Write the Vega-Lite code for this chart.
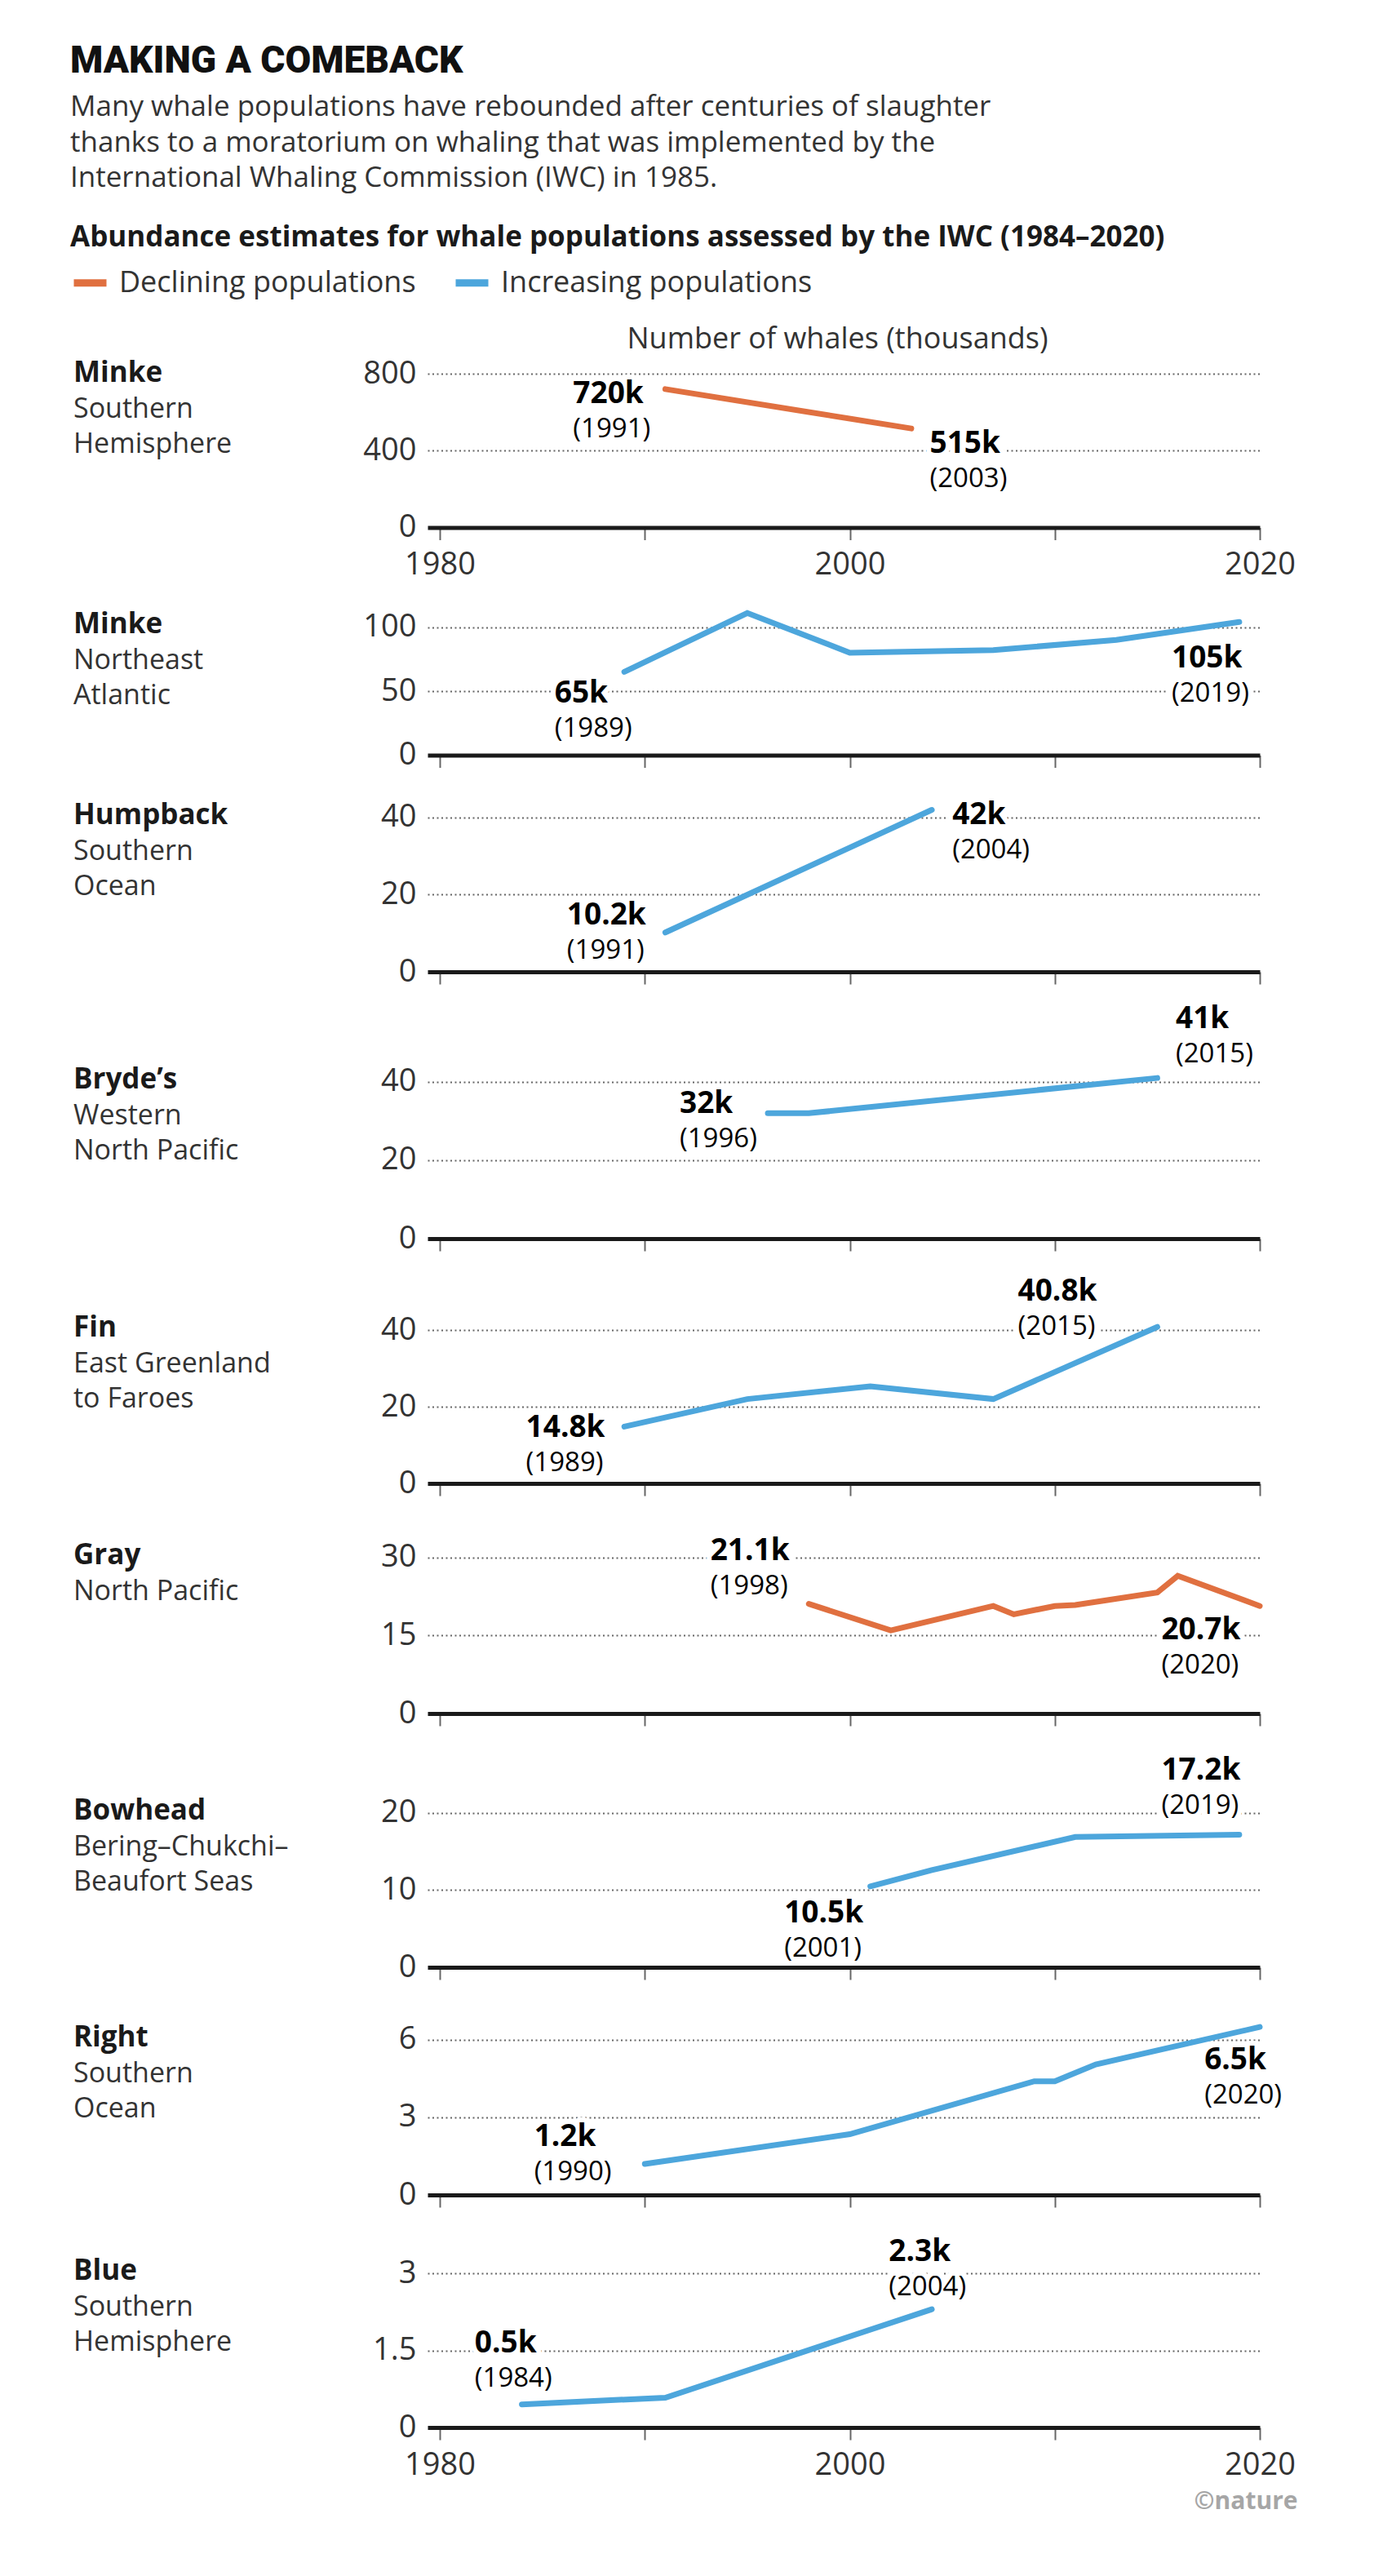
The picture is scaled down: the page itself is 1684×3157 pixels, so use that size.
{
  "$schema": "https://vega.github.io/schema/vega-lite/v6.json",
  "background": "white",
  "padding": {"left": 86, "top": 52, "right": 40, "bottom": 60},
  "title": {
    "text": "MAKING A COMEBACK",
    "subtitle": [
      "Many whale populations have rebounded after centuries of slaughter",
      "thanks to a moratorium on whaling that was implemented by the",
      "International Whaling Commission (IWC) in 1985."
    ],
    "anchor": "start",
    "frame": "group",
    "dx": -438,
    "dy": 0,
    "offset": 37,
    "font": "Roboto",
    "fontSize": 46,
    "fontWeight": 900,
    "color": "#111111",
    "subtitleFont": "Open Sans",
    "subtitleFontSize": 35,
    "subtitleLineHeight": 43.5,
    "subtitlePadding": 15,
    "subtitleColor": "#333333"
  },
  "datasets": {
    "lines": [
      {"pop": "P1", "trend": "Declining populations", "year": 1991, "value": 720},
      {"pop": "P1", "trend": "Declining populations", "year": 2003, "value": 515},
      {"pop": "P2", "trend": "Increasing populations", "year": 1989, "value": 65},
      {"pop": "P2", "trend": "Increasing populations", "year": 1995, "value": 111},
      {"pop": "P2", "trend": "Increasing populations", "year": 2000, "value": 80},
      {"pop": "P2", "trend": "Increasing populations", "year": 2007, "value": 82},
      {"pop": "P2", "trend": "Increasing populations", "year": 2013, "value": 90},
      {"pop": "P2", "trend": "Increasing populations", "year": 2019, "value": 104},
      {"pop": "P3", "trend": "Increasing populations", "year": 1991, "value": 10.2},
      {"pop": "P3", "trend": "Increasing populations", "year": 2004, "value": 42},
      {"pop": "P4", "trend": "Increasing populations", "year": 1996, "value": 32},
      {"pop": "P4", "trend": "Increasing populations", "year": 1998, "value": 32},
      {"pop": "P4", "trend": "Increasing populations", "year": 2015, "value": 41},
      {"pop": "P5", "trend": "Increasing populations", "year": 1989, "value": 14.8},
      {"pop": "P5", "trend": "Increasing populations", "year": 1995, "value": 22},
      {"pop": "P5", "trend": "Increasing populations", "year": 2001, "value": 25.3},
      {"pop": "P5", "trend": "Increasing populations", "year": 2007, "value": 22},
      {"pop": "P5", "trend": "Increasing populations", "year": 2015, "value": 40.8},
      {"pop": "P6", "trend": "Declining populations", "year": 1998, "value": 21.1},
      {"pop": "P6", "trend": "Declining populations", "year": 2002, "value": 16.0},
      {"pop": "P6", "trend": "Declining populations", "year": 2007, "value": 20.7},
      {"pop": "P6", "trend": "Declining populations", "year": 2008, "value": 19.1},
      {"pop": "P6", "trend": "Declining populations", "year": 2010, "value": 20.7},
      {"pop": "P6", "trend": "Declining populations", "year": 2011, "value": 20.9},
      {"pop": "P6", "trend": "Declining populations", "year": 2015, "value": 23.3},
      {"pop": "P6", "trend": "Declining populations", "year": 2016, "value": 26.5},
      {"pop": "P6", "trend": "Declining populations", "year": 2020, "value": 20.7},
      {"pop": "P7", "trend": "Increasing populations", "year": 2001, "value": 10.5},
      {"pop": "P7", "trend": "Increasing populations", "year": 2004, "value": 12.6},
      {"pop": "P7", "trend": "Increasing populations", "year": 2011, "value": 16.9},
      {"pop": "P7", "trend": "Increasing populations", "year": 2019, "value": 17.2},
      {"pop": "P8", "trend": "Increasing populations", "year": 1990, "value": 1.2},
      {"pop": "P8", "trend": "Increasing populations", "year": 2000, "value": 2.35},
      {"pop": "P8", "trend": "Increasing populations", "year": 2009, "value": 4.4},
      {"pop": "P8", "trend": "Increasing populations", "year": 2010, "value": 4.4},
      {"pop": "P8", "trend": "Increasing populations", "year": 2012, "value": 5.05},
      {"pop": "P8", "trend": "Increasing populations", "year": 2020, "value": 6.5},
      {"pop": "P9", "trend": "Increasing populations", "year": 1984, "value": 0.45},
      {"pop": "P9", "trend": "Increasing populations", "year": 1991, "value": 0.58},
      {"pop": "P9", "trend": "Increasing populations", "year": 2004, "value": 2.3}
    ],
    "labels": [
      {"pop": "P1", "year": 1986.5, "value": 694, "val": "720k", "yr": "(1991)"},
      {"pop": "P1", "year": 2003.9, "value": 436, "val": "515k", "yr": "(2003)"},
      {"pop": "P2", "year": 1985.6, "value": 48.4, "val": "65k", "yr": "(1989)"},
      {"pop": "P2", "year": 2015.7, "value": 75.2, "val": "105k", "yr": "(2019)"},
      {"pop": "P3", "year": 1986.2, "value": 14.5, "val": "10.2k", "yr": "(1991)"},
      {"pop": "P3", "year": 2005.0, "value": 40.6, "val": "42k", "yr": "(2004)"},
      {"pop": "P4", "year": 1991.7, "value": 34.3, "val": "32k", "yr": "(1996)"},
      {"pop": "P4", "year": 2015.9, "value": 56.0, "val": "41k", "yr": "(2015)"},
      {"pop": "P5", "year": 1984.2, "value": 14.4, "val": "14.8k", "yr": "(1989)"},
      {"pop": "P5", "year": 2008.2, "value": 50.1, "val": "40.8k", "yr": "(2015)"},
      {"pop": "P6", "year": 1993.2, "value": 31.2, "val": "21.1k", "yr": "(1998)"},
      {"pop": "P6", "year": 2015.2, "value": 16.0, "val": "20.7k", "yr": "(2020)"},
      {"pop": "P7", "year": 1996.8, "value": 7.0, "val": "10.5k", "yr": "(2001)"},
      {"pop": "P7", "year": 2015.2, "value": 25.5, "val": "17.2k", "yr": "(2019)"},
      {"pop": "P8", "year": 1984.6, "value": 2.23, "val": "1.2k", "yr": "(1990)"},
      {"pop": "P8", "year": 2017.3, "value": 5.2, "val": "6.5k", "yr": "(2020)"},
      {"pop": "P9", "year": 1981.7, "value": 1.63, "val": "0.5k", "yr": "(1984)"},
      {"pop": "P9", "year": 2001.9, "value": 3.41, "val": "2.3k", "yr": "(2004)"}
    ]
  },
  "spacing": 0,
  "bounds": "flush",
  "resolve": {
    "scale": {"x": "shared", "y": "independent", "color": "shared"},
    "axis": {"x": "independent", "y": "independent"}
  },
  "vconcat": [
    {
      "width": 1020,
      "height": 188.5,
      "title": {"text": "Minke", "subtitle": ["Southern", "Hemisphere"], "dy": 168.5},
      "encoding": {
        "x": {"field": "year", "type": "quantitative", "scale": {"domain": [1979.4, 2020], "nice": false, "zero": false},
          "axis": {"title": null, "values": [1980, 1990, 2000, 2010, 2020], "labelExpr": "datum.value % 20 === 0 ? format(datum.value, 'd') : ''"}},
        "y": {"field": "value", "type": "quantitative", "scale": {"domain": [0, 800], "nice": false},
          "axis": {"values": [0, 400, 800], "title": "Number of whales (thousands)", "titleAngle": 0, "titleX": 502, "titleY": -42.5, "titleAlign": "center", "titleBaseline": "middle", "titleFontSize": 36, "titleFontWeight": "normal", "titleColor": "#333333",
            "gridOpacity": {"condition": {"test": "datum.value === 0", "value": 0}, "value": 1}}}
      },
      "layer": [
        {"data": {"name": "labels"}, "transform": [{"filter": "datum.pop === 'P1'"}], "mark": {"type": "text", "style": "haloV"}, "encoding": {"text": {"field": "val"}}},
        {"data": {"name": "labels"}, "transform": [{"filter": "datum.pop === 'P1'"}], "mark": {"type": "text", "style": "haloY"}, "encoding": {"text": {"field": "yr"}}},
        {"data": {"name": "lines"}, "transform": [{"filter": "datum.pop === 'P1'"}], "mark": {"type": "line", "strokeWidth": 7, "strokeCap": "round"},
          "encoding": {"color": {"field": "trend", "type": "nominal",
            "scale": {"domain": ["Declining populations", "Increasing populations"], "range": ["#E07040", "#4DA6DC"]},
            "legend": {"title": "Abundance estimates for whale populations assessed by the IWC (1984–2020)", "orient": "none", "legendX": -438, "legendY": -184, "direction": "horizontal"}}}},
        {"data": {"name": "labels"}, "transform": [{"filter": "datum.pop === 'P1'"}], "mark": {"type": "text", "style": "valT"}, "encoding": {"text": {"field": "val"}}},
        {"data": {"name": "labels"}, "transform": [{"filter": "datum.pop === 'P1'"}], "mark": {"type": "text", "style": "yrT"}, "encoding": {"text": {"field": "yr"}}}
      ]
    },
    {
      "width": 1020,
      "height": 278.5,
      "title": {"text": "Minke", "subtitle": ["Northeast", "Atlantic"], "dy": 227},
      "encoding": {
        "x": {"field": "year", "type": "quantitative", "scale": {"domain": [1979.4, 2020], "nice": false, "zero": false},
          "axis": {"title": null, "values": [1980, 1990, 2000, 2010, 2020], "labels": false}},
        "y": {"field": "value", "type": "quantitative", "scale": {"domain": [0, 177.4], "nice": false},
          "axis": {"values": [0, 50, 100], "title": null, "gridOpacity": {"condition": {"test": "datum.value === 0", "value": 0}, "value": 1}}}
      },
      "layer": [
        {"data": {"name": "labels"}, "transform": [{"filter": "datum.pop === 'P2'"}], "mark": {"type": "text", "style": "haloV"}, "encoding": {"text": {"field": "val"}}},
        {"data": {"name": "labels"}, "transform": [{"filter": "datum.pop === 'P2'"}], "mark": {"type": "text", "style": "haloY"}, "encoding": {"text": {"field": "yr"}}},
        {"data": {"name": "lines"}, "transform": [{"filter": "datum.pop === 'P2'"}], "mark": {"type": "line", "strokeWidth": 7, "strokeCap": "round"},
          "encoding": {"color": {"field": "trend", "type": "nominal", "scale": {"domain": ["Declining populations", "Increasing populations"], "range": ["#E07040", "#4DA6DC"]}}}},
        {"data": {"name": "labels"}, "transform": [{"filter": "datum.pop === 'P2'"}], "mark": {"type": "text", "style": "valT"}, "encoding": {"text": {"field": "val"}}},
        {"data": {"name": "labels"}, "transform": [{"filter": "datum.pop === 'P2'"}], "mark": {"type": "text", "style": "yrT"}, "encoding": {"text": {"field": "yr"}}}
      ]
    },
    {
      "width": 1020,
      "height": 265,
      "title": {"text": "Humpback", "subtitle": ["Southern", "Ocean"], "dy": 181.5},
      "encoding": {
        "x": {"field": "year", "type": "quantitative", "scale": {"domain": [1979.4, 2020], "nice": false, "zero": false},
          "axis": {"title": null, "values": [1980, 1990, 2000, 2010, 2020], "labels": false}},
        "y": {"field": "value", "type": "quantitative", "scale": {"domain": [0, 56.08], "nice": false},
          "axis": {"values": [0, 20, 40], "title": null, "gridOpacity": {"condition": {"test": "datum.value === 0", "value": 0}, "value": 1}}}
      },
      "layer": [
        {"data": {"name": "labels"}, "transform": [{"filter": "datum.pop === 'P3'"}], "mark": {"type": "text", "style": "haloV"}, "encoding": {"text": {"field": "val"}}},
        {"data": {"name": "labels"}, "transform": [{"filter": "datum.pop === 'P3'"}], "mark": {"type": "text", "style": "haloY"}, "encoding": {"text": {"field": "yr"}}},
        {"data": {"name": "lines"}, "transform": [{"filter": "datum.pop === 'P3'"}], "mark": {"type": "line", "strokeWidth": 7, "strokeCap": "round"},
          "encoding": {"color": {"field": "trend", "type": "nominal", "scale": {"domain": ["Declining populations", "Increasing populations"], "range": ["#E07040", "#4DA6DC"]}}}},
        {"data": {"name": "labels"}, "transform": [{"filter": "datum.pop === 'P3'"}], "mark": {"type": "text", "style": "valT"}, "encoding": {"text": {"field": "val"}}},
        {"data": {"name": "labels"}, "transform": [{"filter": "datum.pop === 'P3'"}], "mark": {"type": "text", "style": "yrT"}, "encoding": {"text": {"field": "yr"}}}
      ]
    },
    {
      "width": 1020,
      "height": 327,
      "title": {"text": "Bryde’s", "subtitle": ["Western", "North Pacific"], "dy": 240.5},
      "encoding": {
        "x": {"field": "year", "type": "quantitative", "scale": {"domain": [1979.4, 2020], "nice": false, "zero": false},
          "axis": {"title": null, "values": [1980, 1990, 2000, 2010, 2020], "labels": false}},
        "y": {"field": "value", "type": "quantitative", "scale": {"domain": [0, 68.1], "nice": false},
          "axis": {"values": [0, 20, 40], "title": null, "gridOpacity": {"condition": {"test": "datum.value === 0", "value": 0}, "value": 1}}}
      },
      "layer": [
        {"data": {"name": "labels"}, "transform": [{"filter": "datum.pop === 'P4'"}], "mark": {"type": "text", "style": "haloV"}, "encoding": {"text": {"field": "val"}}},
        {"data": {"name": "labels"}, "transform": [{"filter": "datum.pop === 'P4'"}], "mark": {"type": "text", "style": "haloY"}, "encoding": {"text": {"field": "yr"}}},
        {"data": {"name": "lines"}, "transform": [{"filter": "datum.pop === 'P4'"}], "mark": {"type": "line", "strokeWidth": 7, "strokeCap": "round"},
          "encoding": {"color": {"field": "trend", "type": "nominal", "scale": {"domain": ["Declining populations", "Increasing populations"], "range": ["#E07040", "#4DA6DC"]}}}},
        {"data": {"name": "labels"}, "transform": [{"filter": "datum.pop === 'P4'"}], "mark": {"type": "text", "style": "valT"}, "encoding": {"text": {"field": "val"}}},
        {"data": {"name": "labels"}, "transform": [{"filter": "datum.pop === 'P4'"}], "mark": {"type": "text", "style": "yrT"}, "encoding": {"text": {"field": "yr"}}}
      ]
    },
    {
      "width": 1020,
      "height": 300,
      "title": {"text": "Fin", "subtitle": ["East Greenland", "to Faroes"], "dy": 217.5},
      "encoding": {
        "x": {"field": "year", "type": "quantitative", "scale": {"domain": [1979.4, 2020], "nice": false, "zero": false},
          "axis": {"title": null, "values": [1980, 1990, 2000, 2010, 2020], "labels": false}},
        "y": {"field": "value", "type": "quantitative", "scale": {"domain": [0, 63.83], "nice": false},
          "axis": {"values": [0, 20, 40], "title": null, "gridOpacity": {"condition": {"test": "datum.value === 0", "value": 0}, "value": 1}}}
      },
      "layer": [
        {"data": {"name": "labels"}, "transform": [{"filter": "datum.pop === 'P5'"}], "mark": {"type": "text", "style": "haloV"}, "encoding": {"text": {"field": "val"}}},
        {"data": {"name": "labels"}, "transform": [{"filter": "datum.pop === 'P5'"}], "mark": {"type": "text", "style": "haloY"}, "encoding": {"text": {"field": "yr"}}},
        {"data": {"name": "lines"}, "transform": [{"filter": "datum.pop === 'P5'"}], "mark": {"type": "line", "strokeWidth": 7, "strokeCap": "round"},
          "encoding": {"color": {"field": "trend", "type": "nominal", "scale": {"domain": ["Declining populations", "Increasing populations"], "range": ["#E07040", "#4DA6DC"]}}}},
        {"data": {"name": "labels"}, "transform": [{"filter": "datum.pop === 'P5'"}], "mark": {"type": "text", "style": "valT"}, "encoding": {"text": {"field": "val"}}},
        {"data": {"name": "labels"}, "transform": [{"filter": "datum.pop === 'P5'"}], "mark": {"type": "text", "style": "yrT"}, "encoding": {"text": {"field": "yr"}}}
      ]
    },
    {
      "width": 1020,
      "height": 282,
      "title": {"text": "Gray", "subtitle": ["North Pacific"], "dy": 153.5},
      "encoding": {
        "x": {"field": "year", "type": "quantitative", "scale": {"domain": [1979.4, 2020], "nice": false, "zero": false},
          "axis": {"title": null, "values": [1980, 1990, 2000, 2010, 2020], "labels": false}},
        "y": {"field": "value", "type": "quantitative", "scale": {"domain": [0, 44.29], "nice": false},
          "axis": {"values": [0, 15, 30], "title": null, "gridOpacity": {"condition": {"test": "datum.value === 0", "value": 0}, "value": 1}}}
      },
      "layer": [
        {"data": {"name": "labels"}, "transform": [{"filter": "datum.pop === 'P6'"}], "mark": {"type": "text", "style": "haloV"}, "encoding": {"text": {"field": "val"}}},
        {"data": {"name": "labels"}, "transform": [{"filter": "datum.pop === 'P6'"}], "mark": {"type": "text", "style": "haloY"}, "encoding": {"text": {"field": "yr"}}},
        {"data": {"name": "lines"}, "transform": [{"filter": "datum.pop === 'P6'"}], "mark": {"type": "line", "strokeWidth": 7, "strokeCap": "round"},
          "encoding": {"color": {"field": "trend", "type": "nominal", "scale": {"domain": ["Declining populations", "Increasing populations"], "range": ["#E07040", "#4DA6DC"]}}}},
        {"data": {"name": "labels"}, "transform": [{"filter": "datum.pop === 'P6'"}], "mark": {"type": "text", "style": "valT"}, "encoding": {"text": {"field": "val"}}},
        {"data": {"name": "labels"}, "transform": [{"filter": "datum.pop === 'P6'"}], "mark": {"type": "text", "style": "yrT"}, "encoding": {"text": {"field": "yr"}}}
      ]
    },
    {
      "width": 1020,
      "height": 311,
      "title": {"text": "Bowhead", "subtitle": ["Bering–Chukchi–", "Beaufort Seas"], "dy": 227.5},
      "encoding": {
        "x": {"field": "year", "type": "quantitative", "scale": {"domain": [1979.4, 2020], "nice": false, "zero": false},
          "axis": {"title": null, "values": [1980, 1990, 2000, 2010, 2020], "labels": false}},
        "y": {"field": "value", "type": "quantitative", "scale": {"domain": [0, 32.91], "nice": false},
          "axis": {"values": [0, 10, 20], "title": null, "gridOpacity": {"condition": {"test": "datum.value === 0", "value": 0}, "value": 1}}}
      },
      "layer": [
        {"data": {"name": "labels"}, "transform": [{"filter": "datum.pop === 'P7'"}], "mark": {"type": "text", "style": "haloV"}, "encoding": {"text": {"field": "val"}}},
        {"data": {"name": "labels"}, "transform": [{"filter": "datum.pop === 'P7'"}], "mark": {"type": "text", "style": "haloY"}, "encoding": {"text": {"field": "yr"}}},
        {"data": {"name": "lines"}, "transform": [{"filter": "datum.pop === 'P7'"}], "mark": {"type": "line", "strokeWidth": 7, "strokeCap": "round"},
          "encoding": {"color": {"field": "trend", "type": "nominal", "scale": {"domain": ["Declining populations", "Increasing populations"], "range": ["#E07040", "#4DA6DC"]}}}},
        {"data": {"name": "labels"}, "transform": [{"filter": "datum.pop === 'P7'"}], "mark": {"type": "text", "style": "valT"}, "encoding": {"text": {"field": "val"}}},
        {"data": {"name": "labels"}, "transform": [{"filter": "datum.pop === 'P7'"}], "mark": {"type": "text", "style": "yrT"}, "encoding": {"text": {"field": "yr"}}}
      ]
    },
    {
      "width": 1020,
      "height": 279,
      "title": {"text": "Right", "subtitle": ["Southern", "Ocean"], "dy": 194.5},
      "encoding": {
        "x": {"field": "year", "type": "quantitative", "scale": {"domain": [1979.4, 2020], "nice": false, "zero": false},
          "axis": {"title": null, "values": [1980, 1990, 2000, 2010, 2020], "labels": false}},
        "y": {"field": "value", "type": "quantitative", "scale": {"domain": [0, 8.81], "nice": false},
          "axis": {"values": [0, 3, 6], "title": null, "gridOpacity": {"condition": {"test": "datum.value === 0", "value": 0}, "value": 1}}}
      },
      "layer": [
        {"data": {"name": "labels"}, "transform": [{"filter": "datum.pop === 'P8'"}], "mark": {"type": "text", "style": "haloV"}, "encoding": {"text": {"field": "val"}}},
        {"data": {"name": "labels"}, "transform": [{"filter": "datum.pop === 'P8'"}], "mark": {"type": "text", "style": "haloY"}, "encoding": {"text": {"field": "yr"}}},
        {"data": {"name": "lines"}, "transform": [{"filter": "datum.pop === 'P8'"}], "mark": {"type": "line", "strokeWidth": 7, "strokeCap": "round"},
          "encoding": {"color": {"field": "trend", "type": "nominal", "scale": {"domain": ["Declining populations", "Increasing populations"], "range": ["#E07040", "#4DA6DC"]}}}},
        {"data": {"name": "labels"}, "transform": [{"filter": "datum.pop === 'P8'"}], "mark": {"type": "text", "style": "valT"}, "encoding": {"text": {"field": "val"}}},
        {"data": {"name": "labels"}, "transform": [{"filter": "datum.pop === 'P8'"}], "mark": {"type": "text", "style": "yrT"}, "encoding": {"text": {"field": "yr"}}}
      ]
    },
    {
      "width": 1020,
      "height": 285,
      "title": {"text": "Blue", "subtitle": ["Southern", "Hemisphere"], "dy": 201.5},
      "encoding": {
        "x": {"field": "year", "type": "quantitative", "scale": {"domain": [1979.4, 2020], "nice": false, "zero": false},
          "axis": {"values": [1980, 1990, 2000, 2010, 2020], "labelExpr": "datum.value % 20 === 0 ? format(datum.value, 'd') : ''",
            "title": "©nature", "titleX": 1066, "titleY": 90, "titleAlign": "right", "titleBaseline": "middle", "titleAnchor": null, "titleFontSize": 30, "titleFontWeight": "bold", "titleColor": "#a6a6a6"}},
        "y": {"field": "value", "type": "quantitative", "scale": {"domain": [0, 4.524], "nice": false},
          "axis": {"values": [0, 1.5, 3], "format": ".1~f", "title": null, "gridOpacity": {"condition": {"test": "datum.value === 0", "value": 0}, "value": 1}}}
      },
      "layer": [
        {"data": {"name": "labels"}, "transform": [{"filter": "datum.pop === 'P9'"}], "mark": {"type": "text", "style": "haloV"}, "encoding": {"text": {"field": "val"}}},
        {"data": {"name": "labels"}, "transform": [{"filter": "datum.pop === 'P9'"}], "mark": {"type": "text", "style": "haloY"}, "encoding": {"text": {"field": "yr"}}},
        {"data": {"name": "lines"}, "transform": [{"filter": "datum.pop === 'P9'"}], "mark": {"type": "line", "strokeWidth": 7, "strokeCap": "round"},
          "encoding": {"color": {"field": "trend", "type": "nominal", "scale": {"domain": ["Declining populations", "Increasing populations"], "range": ["#E07040", "#4DA6DC"]}}}},
        {"data": {"name": "labels"}, "transform": [{"filter": "datum.pop === 'P9'"}], "mark": {"type": "text", "style": "valT"}, "encoding": {"text": {"field": "val"}}},
        {"data": {"name": "labels"}, "transform": [{"filter": "datum.pop === 'P9'"}], "mark": {"type": "text", "style": "yrT"}, "encoding": {"text": {"field": "yr"}}}
      ]
    }
  ],
  "config": {
    "view": {"stroke": null},
    "font": "Open Sans",
    "title": {
      "anchor": "start",
      "frame": "group",
      "orient": "top",
      "offset": 0,
      "dx": -434,
      "font": "Open Sans",
      "fontSize": 35,
      "fontWeight": "bold",
      "color": "#1a1a1a",
      "subtitleFont": "Open Sans",
      "subtitleFontSize": 34,
      "subtitleColor": "#333333",
      "subtitleLineHeight": 43,
      "subtitlePadding": 10,
      "limit": 0
    },
    "axis": {"labelFont": "Open Sans", "labelFontSize": 38, "labelColor": "#333333", "titleFont": "Open Sans"},
    "axisX": {"grid": false, "domainColor": "#1a1a1a", "domainWidth": 5, "tickColor": "#666666", "tickWidth": 2, "tickSize": 15, "labelPadding": 12, "labelFlush": false, "labelOverlap": false},
    "axisY": {"grid": true, "gridColor": "#666666", "gridDash": [2, 3.5], "gridWidth": 2, "domain": false, "ticks": false, "tickSize": 0, "labelPadding": 14},
    "legend": {
      "symbolType": "stroke",
      "symbolStrokeWidth": 9,
      "symbolSize": 1600,
      "symbolOffset": 0,
      "labelOffset": 11,
      "labelFont": "Open Sans",
      "labelFontSize": 36,
      "labelColor": "#333333",
      "labelLimit": 800,
      "titleFont": "Open Sans",
      "titleFontSize": 35,
      "titleFontWeight": "bold",
      "titleColor": "#1a1a1a",
      "titleLimit": 2000,
      "titlePadding": 13,
      "columnPadding": 30
    },
    "style": {
      "haloV": {"align": "left", "baseline": "middle", "fontSize": 37, "fontWeight": "bold", "fill": "white", "stroke": "white", "strokeWidth": 12, "strokeJoin": "round"},
      "haloY": {"align": "left", "baseline": "middle", "fontSize": 33, "fill": "white", "stroke": "white", "strokeWidth": 12, "strokeJoin": "round", "dy": 43},
      "valT": {"align": "left", "baseline": "middle", "fontSize": 37, "fontWeight": "bold", "fill": "#1a1a1a"},
      "yrT": {"align": "left", "baseline": "middle", "fontSize": 33, "fill": "#333333", "dy": 43}
    }
  }
}
